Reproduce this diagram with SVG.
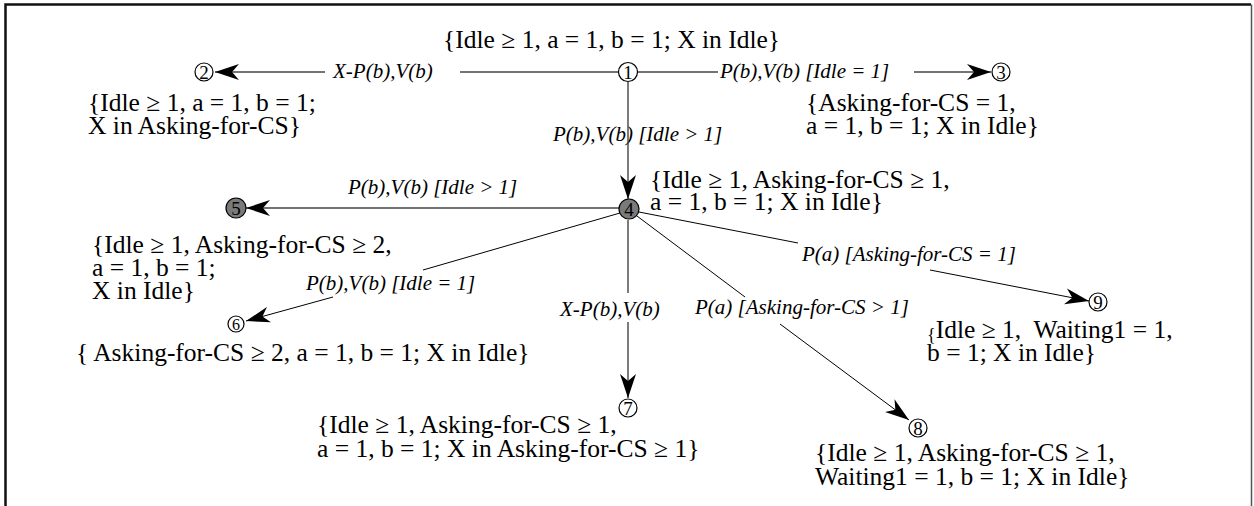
<svg xmlns="http://www.w3.org/2000/svg" width="1254" height="506" viewBox="0 0 1254 506">
<style>
.st{font-family:"Liberation Serif","Times New Roman",serif;font-size:25.5px;fill:#000}
.lb{font-family:"Liberation Serif","Times New Roman",serif;font-size:21px;font-style:italic;fill:#000}
.nd{font-family:"Liberation Serif","Times New Roman",serif;font-size:19px;fill:#000;text-anchor:middle}
.c{fill:#fff;stroke:#000;stroke-width:1.2}
.g{fill:#7a7a7a;stroke:#000;stroke-width:1.2}
.e{fill:none;stroke:#444;stroke-width:1.4}
.d{fill:none;stroke:#000;stroke-width:1}
</style>
<defs>
<marker id="ah" viewBox="0 0 24 16" refX="24" refY="8" markerWidth="24" markerHeight="17" markerUnits="userSpaceOnUse" orient="auto">
<path d="M0,0 L24,8 L0,16 L7,8 z" fill="#000"/>
</marker>
</defs>
<rect x="0" y="0" width="1254" height="506" fill="#fff"/>
<path d="M5.5,506 L5.5,4.5 L1251,4.5" fill="none" stroke="#111" stroke-width="2.5"/>
<path d="M1251.5,4.5 L1251.5,506" fill="none" stroke="#555" stroke-width="1.5"/>

<g id="connectors">
  <path class="e" d="M618,72 L460,72"/>
  <path class="e" d="M325,72 L215,72" marker-end="url(#ah)"/>
  <text class="lb" x="333" y="78">X-P(b),V(b)</text>
  <path class="e" d="M638,72 L718,72"/>
  <path class="e" d="M914,72 L991,72" marker-end="url(#ah)"/>
  <text class="lb" x="720" y="78">P(b),V(b) [Idle = 1]</text>
  <text class="lb" x="553" y="141">P(b),V(b) [Idle &gt; 1]</text>
  <path class="e" d="M628,82 L628,199" marker-end="url(#ah)"/>
  <path class="e" d="M619,208 L246,208" marker-end="url(#ah)"/>
  <text class="lb" x="348" y="194">P(b),V(b) [Idle &gt; 1]</text>
  <path class="d" d="M620,213 L423,270"/>
  <path class="d" d="M333,297 L246,321" marker-end="url(#ah)"/>
  <text class="lb" x="306" y="290">P(b),V(b) [Idle = 1]</text>
  <path class="e" d="M628,220 L628,293"/>
  <path class="e" d="M628,322 L628,398" marker-end="url(#ah)"/>
  <text class="lb" x="560" y="316">X-P(b),V(b)</text>
  <path class="d" d="M637,216 L745,297"/>
  <path class="d" d="M780,324 L909,420" marker-end="url(#ah)"/>
  <text class="lb" x="695" y="314">P(a) [Asking-for-CS &gt; 1]</text>
  <path class="d" d="M639,212 L798,243"/>
  <path class="d" d="M930,270 L1089,301" marker-end="url(#ah)"/>
  <text class="lb" x="802" y="261">P(a) [Asking-for-CS = 1]</text>
</g>

<g id="node1">
  <circle class="c" cx="628" cy="72" r="9.5"/>
  <text class="nd" x="628" y="78.5">1</text>
  <text class="st" x="443" y="48">{Idle ≥ 1, a = 1, b = 1; X in Idle}</text>
</g>
<g id="node2">
  <circle class="c" cx="204" cy="72" r="9"/>
  <text class="nd" x="204" y="78.5">2</text>
  <text class="st" x="88" y="111">{Idle ≥ 1, a = 1, b = 1;</text>
  <text class="st" x="88" y="134">X in Asking-for-CS}</text>
</g>
<g id="node3">
  <circle class="c" cx="1001" cy="72" r="9"/>
  <text class="nd" x="1001" y="78.5">3</text>
  <text class="st" x="806" y="111">{Asking-for-CS = 1,</text>
  <text class="st" x="806" y="134">a = 1, b = 1; X in Idle}</text>
</g>
<g id="node4">
  <circle class="g" cx="629" cy="209" r="10"/>
  <text class="nd" x="629" y="215.5">4</text>
  <text class="st" x="650" y="188">{Idle ≥ 1, Asking-for-CS ≥ 1,</text>
  <text class="st" x="650" y="210">a = 1, b = 1; X in Idle}</text>
</g>
<g id="node5">
  <circle class="g" cx="236" cy="208" r="10"/>
  <text class="nd" x="236" y="214.5">5</text>
  <text class="st" x="92" y="253">{Idle ≥ 1, Asking-for-CS ≥ 2,</text>
  <text class="st" x="92" y="276">a = 1, b = 1;</text>
  <text class="st" x="92" y="299">X in Idle}</text>
</g>
<g id="node6">
  <circle class="c" cx="236" cy="324" r="8"/>
  <text class="nd" x="236" y="329.5" style="font-size:16px">6</text>
  <text class="st" x="76" y="361">{ Asking-for-CS ≥ 2, a = 1, b = 1; X in Idle}</text>
</g>
<g id="node7">
  <circle class="c" cx="628" cy="408" r="9"/>
  <text class="nd" x="628" y="414.5">7</text>
  <text class="st" x="317" y="433">{Idle ≥ 1, Asking-for-CS ≥ 1,</text>
  <text class="st" x="317" y="457">a = 1, b = 1; X in Asking-for-CS ≥ 1}</text>
</g>
<g id="node8">
  <circle class="c" cx="918" cy="428" r="9"/>
  <text class="nd" x="918" y="434.5">8</text>
  <text class="st" x="815" y="461">{Idle ≥ 1, Asking-for-CS ≥ 1,</text>
  <text class="st" x="815" y="485">Waiting1 = 1, b = 1; X in Idle}</text>
</g>
<g id="node9">
  <circle class="c" cx="1098" cy="302" r="9"/>
  <text class="nd" x="1098" y="308.5">9</text>
  <text class="st" x="927" y="338"><tspan style="font-size:18px" dy="3">{</tspan><tspan dy="-3">Idle ≥ 1,&#160; Waiting1 = 1,</tspan></text>
  <text class="st" x="927" y="361">b = 1; X in Idle}</text>
</g>
</svg>
